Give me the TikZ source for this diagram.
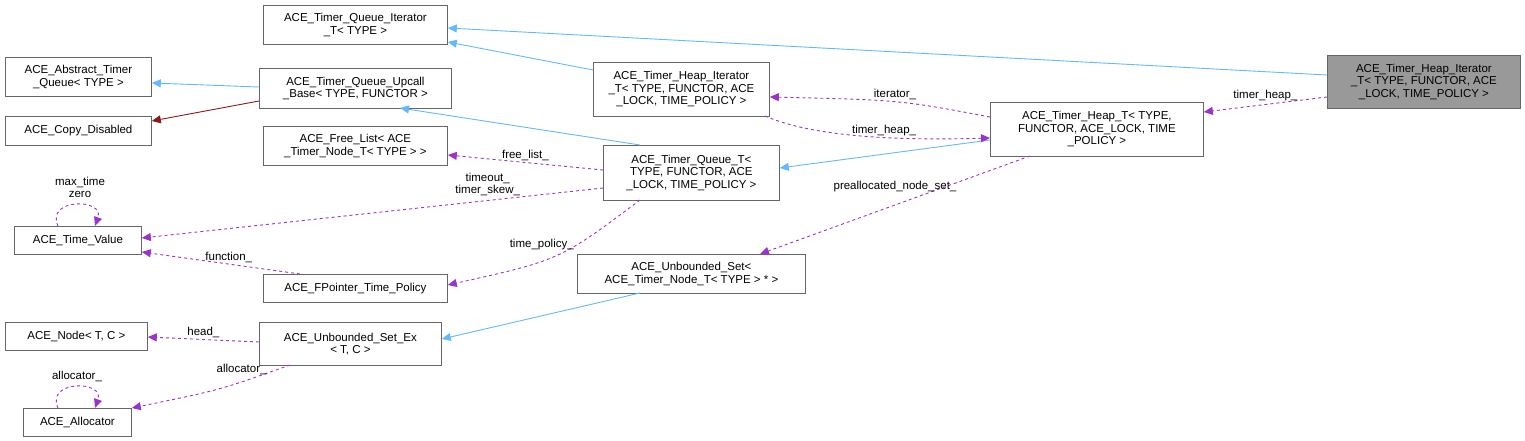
\documentclass[tikz,border=0pt]{standalone}
\usepackage{fontspec}
\setmainfont{Liberation Sans}
\usetikzlibrary{arrows.meta,calc}
\definecolor{inh}{HTML}{63B8FF}
\definecolor{use}{HTML}{9A32CD}
\definecolor{red4}{HTML}{8B1A1A}
\definecolor{bord}{HTML}{666666}
\tikzset{
 box/.style={draw=bord,line width=0.8pt,anchor=north west,align=center,inner sep=1pt,font=\fontsize{11.5}{12.5}\selectfont},
 inhe/.style={draw=inh,line width=0.9pt,-{Triangle[length=9pt,width=8pt,fill=inh]}},
 disab/.style={draw=red4,line width=0.9pt,-{Triangle[length=9pt,width=8pt,fill=red4]}},
 usee/.style={draw=use,line width=0.9pt,dashed,-{Triangle[length=9pt,width=8pt,fill=use]}},
 lbl/.style={font=\fontsize{11.5}{12}\selectfont,align=center,inner sep=1pt}
}
\begin{document}
\begin{tikzpicture}[x=1pt,y=-1pt]
\useasboundingbox (0,0) rectangle (1525,441);
\newcommand\bx[6]{\node[box,minimum width=#4,minimum height=#5] (#1) at (#2,#3) {#6};}
\bx{qi}{263}{5}{184}{39}{ACE\_Timer\_Queue\_Iterator\\\_T< TYPE >}
\bx{abs}{5}{57}{146}{39}{ACE\_Abstract\_Timer\\\_Queue< TYPE >}
\bx{up}{259}{68}{192}{40}{ACE\_Timer\_Queue\_Upcall\\\_Base< TYPE, FUNCTOR >}
\bx{cd}{5}{116}{146}{29}{ACE\_Copy\_Disabled}
\bx{hi}{593}{62}{176}{54}{ACE\_Timer\_Heap\_Iterator\\\_T< TYPE, FUNCTOR, ACE\\\_LOCK, TIME\_POLICY >}
\bx{ht}{990}{102}{213}{54}{ACE\_Timer\_Heap\_T< TYPE,\\FUNCTOR, ACE\_LOCK, TIME\\\_POLICY >}
\node[box,fill=black!40,minimum width=193,minimum height=53] (g) at (1327,55) {ACE\_Timer\_Heap\_Iterator\\\_T< TYPE, FUNCTOR, ACE\\\_LOCK, TIME\_POLICY >};
\bx{fl}{263}{126}{184}{39}{ACE\_Free\_List< ACE\\\_Timer\_Node\_T< TYPE > >}
\bx{tq}{603}{145}{176}{55}{ACE\_Timer\_Queue\_T<\\TYPE, FUNCTOR, ACE\\\_LOCK, TIME\_POLICY >}
\bx{tv}{14}{226}{127}{28}{ACE\_Time\_Value}
\bx{fp}{263}{274}{184}{28}{ACE\_FPointer\_Time\_Policy}
\bx{us}{577}{254}{228}{39}{ACE\_Unbounded\_Set<\\ACE\_Timer\_Node\_T< TYPE > * >}
\bx{nd}{5}{322}{142}{28}{ACE\_Node< T, C >}
\bx{use}{259}{322}{182}{43}{ACE\_Unbounded\_Set\_Ex\\< T, C >}
\bx{al}{23}{408}{108}{28}{ACE\_Allocator}
% inheritance
\draw[inhe] (g.west|-0,75) -- (qi.east|-0,28);
\draw[inhe] (hi.west|-0,70) -- (qi.east|-0,42);
\draw[inhe] (up.west|-0,87) -- (abs.east|-0,83);
\draw[disab] (up.west|-0,101) -- (cd.east|-0,121);
\draw[inhe] (tq.north west)++(37,0) -- (400,108);
\draw[inhe] (ht.west|-0,140) -- (tq.east|-0,168);
\draw[inhe] (640,293) -- (use.east|-0,339);
% usage
\draw[usee] (ht.west|-0,117) .. controls (900,100) .. (hi.east|-0,97) node[lbl,pos=0.5,above=1pt] {iterator\_};
\draw[usee] (765,116) .. controls (820,140) and (920,140) .. (ht.west|-0,138) node[lbl,pos=0.55,above=0pt] {timer\_heap\_};
\draw[usee] (g.west|-0,97) -- (ht.east|-0,112) node[lbl,pos=0.5,above=2pt] {timer\_heap\_};
\draw[usee] (tq.west|-0,170) -- (fl.east|-0,155) node[lbl,pos=0.5,above=0pt] {free\_list\_};
\draw[usee] (tq.west|-0,188) -- (tv.east|-0,238) node[lbl,pos=0.25,above=3pt] {timeout\_\\timer\_skew\_};
\draw[usee] (58,226) .. controls (45,198) and (105,198) .. (95,226);
\node[lbl] (tvl) at (80,187) {max\_time\\zero};
\draw[usee] (300,274) -- (tv.east|-0,252) node[lbl,pos=0.45,above=0pt] {function\_};
\draw[usee] (640,200) .. controls (560,260) .. (fp.east|-0,285) node[lbl,pos=0.35,left=2pt] {time\_policy\_};
\draw[usee] (1030,156) -- (760,254) node[lbl,pos=0.5,above=12pt] {preallocated\_node\_set\_};
\draw[usee] (use.west|-0,342) -- (nd.east|-0,337) node[lbl,pos=0.5,above=0pt] {head\_};
\draw[usee] (290,365) .. controls (220,390) .. (al.east|-0,408) node[lbl,pos=0.3,above=6pt] {allocator\_};
\draw[usee] (58,408) .. controls (45,380) and (105,380) .. (95,408);
\node[lbl] (all) at (77,376) {allocator\_};
\end{tikzpicture}
\end{document}
